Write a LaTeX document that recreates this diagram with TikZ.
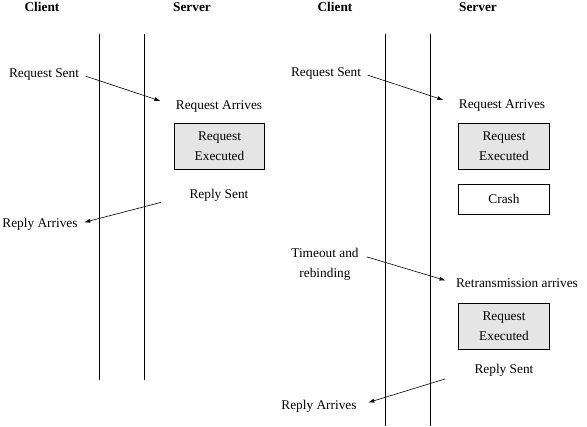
\documentclass[tikz,border=0pt]{standalone}
\usepackage{fontspec}
\setmainfont{Liberation Serif}
\usetikzlibrary{arrows.meta}
\definecolor{execGray}{HTML}{E5E5E5}

\begin{document}
\begin{tikzpicture}[x=0.75pt, y=-0.75pt,
    every node/.style={font=\fontsize{10}{15}\selectfont, inner sep=0pt, align=center},
    head/.style={font=\fontsize{10}{15}\selectfont\bfseries},
    box/.style={draw, line width=0.6pt, minimum width=68pt, minimum height=34pt},
    msg/.style={-{Latex[length=4.5pt,width=3pt]}, line width=0.45pt}]
  \useasboundingbox (0,0) rectangle (587,426);
  % time lines of both runs
  \foreach \x/\y in {99/380, 144/380, 385/426, 430/426}
    \draw[line width=0.6pt] (\x,34) -- (\x,\y);

  % normal run
  \node[head] (cliA) at (42,7) {Client};
  \node[head] (srvA) at (192,7) {Server};
  \node (sentA) at (44,74) {Request Sent};
  \node (arrA) at (219,106) {Request Arrives};
  \node[box, fill=execGray] (execA) at (219.5,146.5) {Request\\Executed};
  \node (replyA) at (219,195) {Reply Sent};
  \node (backA) at (40,224) {Reply Arrives};
  \draw[msg, shorten <=5pt, shorten >=12pt] (sentA.east) -- (arrA.west);
  \draw[msg, shorten <=22pt, shorten >=5pt] (replyA.west) -- (backA.east);

  % crash and retransmission
  \node[head] (cliB) at (335,7) {Client};
  \node[head] (srvB) at (478,7) {Server};
  \node (sentB) at (326,73) {Request Sent};
  \node (arrB) at (502,105) {Request Arrives};
  \node[box, fill=execGray] (execB) at (504,146.5) {Request\\Executed};
  \node[box, minimum height=22.5pt] (crash) at (504,199) {Crash};
  \node (tmo) at (325,264.5) {Timeout and\\rebinding};
  \node (retx) at (517,283.5) {Retransmission arrives};
  \node[box, fill=execGray] (execC) at (504,326.5) {Request\\Executed};
  \node (replyB) at (504,370) {Reply Sent};
  \node (backB) at (319,406) {Reply Arrives};
  \draw[msg, shorten <=5pt, shorten >=12pt] (sentB.east) -- (arrB.west);
  \draw[msg, shorten <=6pt, shorten >=8pt] ([yshift=7.5pt]tmo.east) -- (retx.west);
  \draw[msg, shorten <=23pt, shorten >=9pt] (replyB.west) -- (backB.east);
\end{tikzpicture}
\end{document}
